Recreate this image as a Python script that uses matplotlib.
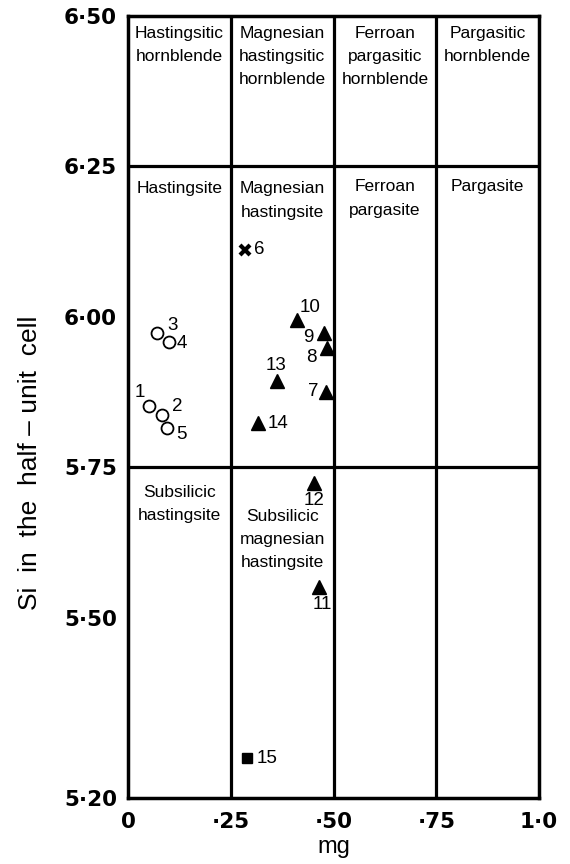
import matplotlib.pyplot as plt

plt.rcParams['font.family'] = ['Liberation Sans', 'DejaVu Sans']

# field boundaries
mg_bounds = [0.25, 0.50, 0.75]
si_bounds = [5.75, 6.25]

# field names, left -> right
names_top = ['Hastingsitic\nhornblende', 'Magnesian\nhastingsitic\nhornblende',
             'Ferroan\npargasitic\nhornblende', 'Pargasitic\nhornblende']
names_mid = ['Hastingsite', 'Magnesian\nhastingsite', 'Ferroan\npargasite', 'Pargasite']
names_low = ['Subsilicic\nhastingsite', 'Subsilicic\nmagnesian\nhastingsite']

# samples
circ_id = ['1', '2', '3', '4', '5']
circ_mg = [0.051, 0.083, 0.071, 0.100, 0.095]
circ_si = [5.852, 5.837, 5.973, 5.958, 5.815]

cross_id = ['6']
cross_mg = [0.285]
cross_si = [6.111]

tri_id = ['7', '8', '9', '10', '11', '12', '13', '14']
tri_mg = [0.482, 0.484, 0.477, 0.411, 0.465, 0.453, 0.363, 0.316]
tri_si = [5.875, 5.948, 5.973, 5.995, 5.551, 5.724, 5.893, 5.823]

sq_id = ['15']
sq_mg = [0.290]
sq_si = [5.266]

xticks = [0, 0.25, 0.50, 0.75, 1.0]
xtick_labels = ['0', '\u00b725', '\u00b750', '\u00b775', '1\u00b70']
yticks = [5.20, 5.50, 5.75, 6.00, 6.25, 6.50]
ytick_labels = ['5\u00b720', '5\u00b750', '5\u00b775', '6\u00b700', '6\u00b725', '6\u00b750']

# label offsets in pixels (dx, dy)
lab_off = {'1': (-9, 13), '2': (15, 8), '3': (15, 8), '4': (13, -1), '5': (14, -6),
           '6': (14, 0), '7': (-13, 0), '8': (-16, -9), '9': (-16, -4), '10': (13, 12),
           '11': (3, -18), '12': (0, -18), '13': (-1, 16), '14': (20, 0), '15': (20, 0)}

fig = plt.figure(figsize=(5.7, 8.64), dpi=100)
ax = fig.add_axes([128 / 570, 1 - 798 / 864, 411 / 570, 782 / 864])
ax.set_xlim(0, 1.0)
ax.set_ylim(5.20, 6.50)

for v in mg_bounds:
    ax.axvline(v, color='black', lw=2.3)
for h in si_bounds:
    ax.axhline(h, color='black', lw=2.3)
for s in ax.spines.values():
    s.set_linewidth(2.5)

edges = [0] + mg_bounds + [1.0]
centers = [(edges[i] + edges[i + 1]) / 2 for i in range(4)]

txt = dict(ha='center', va='top', fontsize=12.5, linespacing=1.68,
           textcoords='offset pixels')
for i, name in enumerate(names_top):
    ax.annotate(name, (centers[i], 6.50), xytext=(0, -10), **txt)
for i, name in enumerate(names_mid):
    dy = -15 if i < 2 else -13
    ax.annotate(name, (centers[i], 6.25), xytext=(0, dy), **txt)
ax.annotate(names_low[0], (centers[0], 5.75), xytext=(0, -18), **txt)
ax.annotate(names_low[1], (centers[1], 5.75), xytext=(0, -42), **txt)

ax.plot(circ_mg, circ_si, 'o', mfc='white', mec='black', ms=8.6, mew=1.3)
ax.plot(cross_mg, cross_si, 'x', color='black', ms=7, mew=3)
ax.plot(tri_mg, tri_si, '^', color='black', ms=9.5)
ax.plot(sq_mg, sq_si, 's', color='black', ms=7.5)

for ids, xs, ys in [(circ_id, circ_mg, circ_si), (cross_id, cross_mg, cross_si),
                    (tri_id, tri_mg, tri_si), (sq_id, sq_mg, sq_si)]:
    for k, x, y in zip(ids, xs, ys):
        ax.annotate(k, (x, y), xytext=lab_off[k], textcoords='offset pixels',
                    ha='center', va='center', fontsize=13.5)

ax.set_xticks(xticks)
ax.set_xticklabels(xtick_labels, fontsize=15.5, fontweight='bold', family='DejaVu Sans')
ax.set_yticks(yticks)
ax.set_yticklabels(ytick_labels, fontsize=15.5, fontweight='bold', family='DejaVu Sans')
ax.tick_params(axis='both', length=0)
ax.tick_params(axis='x', pad=10)
ax.tick_params(axis='y', pad=8)

ax.set_xlabel('mg', fontsize=17, labelpad=3)
fig.text(30 / 570, 1 - 463 / 864, 'Si  in  the  half \u2013 unit  cell', rotation=90,
         ha='center', va='center', fontsize=19)

fig.savefig('out.png', dpi=100)
